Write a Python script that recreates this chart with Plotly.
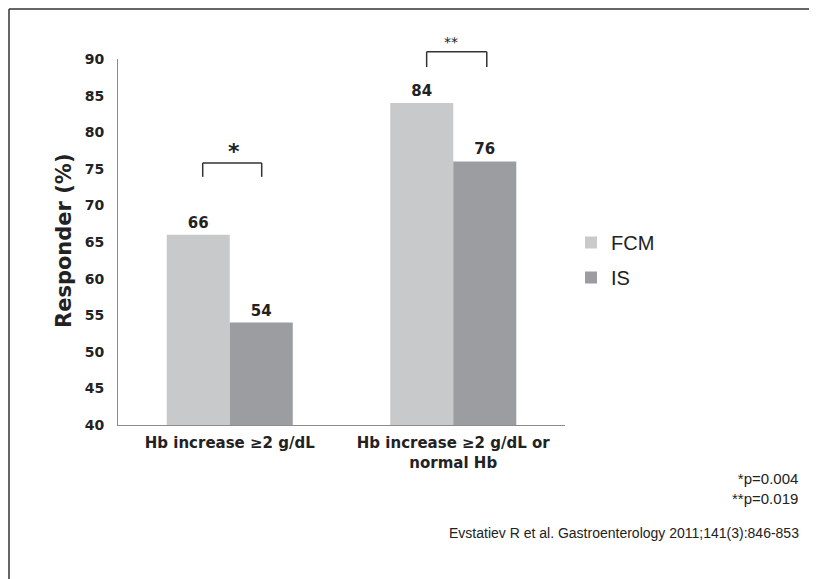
import plotly.graph_objects as go

categories = ["Hb increase ≥2 g/dL", "Hb increase ≥2 g/dL or<br>normal Hb"]
fcm_values = [66, 84]
is_values = [54, 76]
series_names = ["FCM", "IS"]
y_ticks = [40, 45, 50, 55, 60, 65, 70, 75, 80, 85, 90]
footnotes = ["*p=0.004", "**p=0.019"]
citation = "Evstatiev R et al. Gastroenterology 2011;141(3):846-853"

OFF = 8  # page body margin
W, H = 817 - OFF, 579 - OFF
L, T = 118 - OFF, 59 - OFF
PLOT_RIGHT, PLOT_BOTTOM = 565 - OFF, 425 - OFF
R, B = W - PLOT_RIGHT, H - PLOT_BOTTOM
pw, ph = W - L - R, H - T - B
YMIN, YMAX = 40, 90


def px_x(px):
    return (px - OFF - L) / pw


def px_y(py):
    return (H - B - (py - OFF)) / ph


def dy(v):
    return (v - YMIN) / (YMAX - YMIN)


bold = dict(family="DejaVu Sans", size=15, color="#222222", weight="bold")

fig = go.Figure()
fig.add_trace(go.Bar(
    x=categories, y=fcm_values, name=series_names[0],
    marker=dict(color="#c8c9cb", line=dict(width=0)),
    text=fcm_values, textposition="outside", cliponaxis=False,
    textfont=bold, legendgroup="a",
))
fig.add_trace(go.Bar(
    x=categories, y=is_values, name=series_names[1],
    marker=dict(color="#9c9da0", line=dict(width=0)),
    text=is_values, textposition="outside", cliponaxis=False,
    textfont=bold, legendgroup="b",
))

fig.update_layout(
    width=W, height=H,
    margin=dict(l=L, r=R, t=T, b=B, pad=0),
    paper_bgcolor="white", plot_bgcolor="white",
    barmode="group", bargap=0.436, bargroupgap=0,
    showlegend=True,
    legend=dict(x=px_x(571), y=px_y(223), xanchor="left", yanchor="top",
                font=dict(family="Liberation Sans, Arial", size=20, color="#222222"),
                traceorder="grouped", tracegroupgap=6, bgcolor="rgba(0,0,0,0)"),
    xaxis=dict(showline=True, linecolor="#8c8c8c", linewidth=1, showgrid=False,
               ticks="", tickfont=dict(family="DejaVu Sans", size=15, color="#222222", weight="bold"),
               ticklabelstandoff=4, zeroline=False),
    yaxis=dict(range=[YMIN, YMAX], tickvals=y_ticks, showline=True, linecolor="#8c8c8c",
               linewidth=1, showgrid=False, ticks="", zeroline=False,
               tickfont=dict(family="DejaVu Sans", size=14, color="#222222", weight="bold"),
               ticklabelstandoff=10),
)

# significance brackets
brackets = [(-0.121, 0.143, 73.9, 75.8), (-0.119, 0.150, 88.9, 91.0)]
for i, (x0, x1, yb, yt) in enumerate(brackets):
    xs = [x0 + i, x0 + i, x1 + i, x1 + i]
    ys = [dy(yb), dy(yt), dy(yt), dy(yb)]
    for k in range(3):
        fig.add_shape(type="line", xref="x", yref="paper",
                      x0=xs[k], x1=xs[k + 1], y0=ys[k], y1=ys[k + 1],
                      line=dict(color="#333333", width=1.5))

fig.add_annotation(x=0.02, y=px_y(151), xref="x", yref="paper", text="*", showarrow=False,
                   xanchor="center", yanchor="middle",
                   font=dict(family="DejaVu Sans", size=22, color="#222222", weight="bold"))
fig.add_annotation(x=0.99, y=px_y(42), xref="x", yref="paper", text="**", showarrow=False,
                   xanchor="center", yanchor="middle",
                   font=dict(family="DejaVu Sans", size=14, color="#222222"))

# axis title
fig.add_annotation(x=px_x(64), y=px_y(241), xref="paper", yref="paper", text="Responder (%)",
                   textangle=-90, showarrow=False, xanchor="center", yanchor="middle",
                   font=dict(family="DejaVu Sans", size=21, color="#222222", weight="bold"))

# footnotes
fig.add_annotation(x=px_x(800), y=px_y(488), xref="paper", yref="paper",
                   text="<br>".join(footnotes), showarrow=False, xanchor="right", yanchor="middle",
                   align="right", font=dict(family="Liberation Sans, Arial", size=15, color="#222222"))
fig.add_annotation(x=px_x(801), y=px_y(533), xref="paper", yref="paper",
                   text=citation, showarrow=False, xanchor="right", yanchor="middle",
                   font=dict(family="Liberation Sans, Arial", size=14, color="#222222"))

# frame (left & top edges)
fig.add_shape(type="line", xref="paper", yref="paper", x0=px_x(9), x1=px_x(9),
              y0=px_y(9), y1=px_y(600), line=dict(color="#333333", width=1.5))
fig.add_shape(type="line", xref="paper", yref="paper", x0=px_x(9), x1=px_x(840),
              y0=px_y(9), y1=px_y(9), line=dict(color="#333333", width=1.5))

fig.write_html("out.html")
